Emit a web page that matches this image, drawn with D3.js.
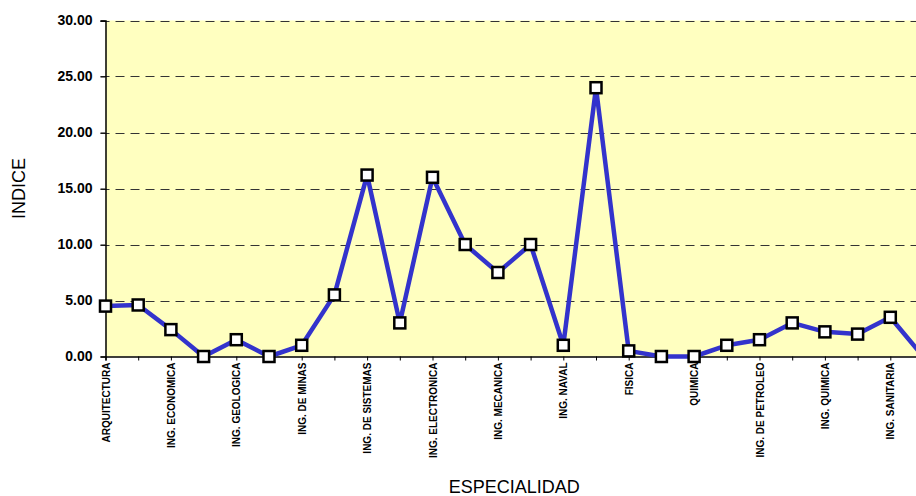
<!DOCTYPE html>
<html>
<head>
<meta charset="utf-8">
<script src="https://cdn.jsdelivr.net/npm/d3@7.9.0/dist/d3.min.js"></script>
<style>
  html, body { margin: 0; padding: 0; background: #fff; overflow: hidden; }
  svg { display: block; font-family: Arial, "Liberation Sans", sans-serif; }
</style>
</head>
<body>
<div id="chart"></div>
<script>
// categories (only every other one gets a label on the axis)
const especialidades = [
  'ARQUITECTURA', 'URBANISMO', 'ING. ECONOMICA', 'ING. ESTADISTICA',
  'ING. GEOLOGICA', 'ING. METALURGICA', 'ING. DE MINAS', 'ING. INDUSTRIAL',
  'ING. DE SISTEMAS', 'ING. ELECTRICA', 'ING. ELECTRONICA', 'ING. DE TELECOMUNICACIONES',
  'ING. MECANICA', 'ING. MECANICA-ELECTRICA', 'ING. NAVAL', 'ING. MECATRONICA',
  'FISICA', 'MATEMATICA', 'QUIMICA', 'ING. FISICA',
  'ING. DE PETROLEO', 'ING. PETROQUIMICA', 'ING. QUIMICA', 'ING. TEXTIL',
  'ING. SANITARIA', 'ING. CIVIL'
];
const indice = [
  4.5, 4.6, 2.4, 0.0, 1.5, 0.0, 1.0, 5.5, 16.2, 3.0, 16.0, 10.0, 7.5,
  10.0, 1.0, 24.0, 0.5, 0.0, 0.0, 1.0, 1.5, 3.0, 2.2, 2.0, 3.5, 0.0
];
const yTicks = [0, 5, 10, 15, 20, 25, 30];

const width = 916, height = 496;
const plot = { left: 105.5, right: 923, top: 20.5, bottom: 356.5 };

const svg = d3.select('#chart').append('svg')
  .attr('width', width)
  .attr('height', height);

const x = d3.scalePoint()
  .domain(especialidades)
  .range([plot.left, plot.right])
  .padding(0);

const y = d3.scaleLinear()
  .domain([0, 30])
  .range([plot.bottom, plot.top]);

// plot background
svg.append('rect')
  .attr('x', plot.left).attr('y', plot.top)
  .attr('width', plot.right - plot.left + 20)
  .attr('height', plot.bottom - plot.top)
  .attr('fill', '#FFFFC0');

// dashed gridlines
svg.append('g')
  .selectAll('line')
  .data(yTicks.filter(d => d > 0))
  .join('line')
  .attr('x1', plot.left - 5).attr('x2', plot.right + 20)
  .attr('y1', d => Math.round(y(d)) + 0.5).attr('y2', d => Math.round(y(d)) + 0.5)
  .attr('stroke', '#333')
  .attr('stroke-width', 1)
  .attr('stroke-dasharray', '9,6');

// y axis
svg.append('g')
  .attr('transform', `translate(${plot.left},0)`)
  .call(d3.axisLeft(y).tickValues(yTicks).tickSize(5).tickPadding(8).tickFormat(d3.format('.2f')))
  .call(g => g.select('.domain').attr('stroke', '#000').attr('stroke-width', 1.5))
  .call(g => g.selectAll('text')
    .attr('font-size', 14).attr('font-weight', 'bold').attr('fill', '#000')
    .attr('font-family', 'Arial, "Liberation Sans", sans-serif'));

// x axis
svg.append('g')
  .attr('transform', `translate(0,${plot.bottom})`)
  .call(d3.axisBottom(x).tickSize(4).tickPadding(6)
    .tickFormat((d, i) => i % 2 === 0 ? d : ''))
  .call(g => g.select('.domain').attr('stroke', '#000').attr('stroke-width', 1.5))
  .call(g => g.selectAll('text')
    .attr('font-size', 10).attr('font-weight', 'bold').attr('fill', '#000')
    .attr('font-family', 'Arial, "Liberation Sans", sans-serif')
    .attr('text-anchor', 'end')
    .attr('transform', 'rotate(-90)')
    .attr('x', -6).attr('y', 0).attr('dy', '0.35em'));

// line
const line = d3.line()
  .x((d, i) => x(especialidades[i]))
  .y(d => y(d));

svg.append('path')
  .datum(indice)
  .attr('fill', 'none')
  .attr('stroke', '#3333CC')
  .attr('stroke-width', 4.5)
  .attr('stroke-linejoin', 'round')
  .attr('d', line);

// square markers
const s = 11;
svg.append('g')
  .selectAll('rect')
  .data(indice)
  .join('rect')
  .attr('x', (d, i) => x(especialidades[i]) - s / 2)
  .attr('y', d => y(d) - s / 2)
  .attr('width', s).attr('height', s)
  .attr('fill', '#fff')
  .attr('stroke', '#000')
  .attr('stroke-width', 2.5);

// axis titles
svg.append('text')
  .attr('transform', `translate(25,${(plot.top + plot.bottom) / 2}) rotate(-90)`)
  .attr('text-anchor', 'middle')
  .attr('font-size', 18)
  .attr('fill', '#000')
  .text('INDICE');

svg.append('text')
  .attr('x', (plot.left + plot.right) / 2)
  .attr('y', 493)
  .attr('text-anchor', 'middle')
  .attr('font-size', 18)
  .attr('fill', '#000')
  .text('ESPECIALIDAD');
</script>
</body>
</html>
